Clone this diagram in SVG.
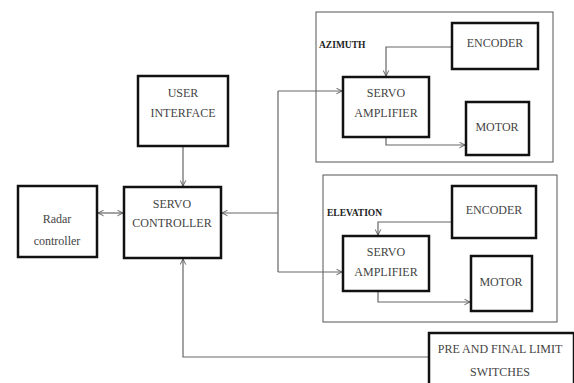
<svg xmlns="http://www.w3.org/2000/svg" width="574" height="383" viewBox="0 0 574 383">
<defs>
<marker id="ah" viewBox="0 0 10 10" refX="9" refY="5" markerWidth="7" markerHeight="7" orient="auto-start-reverse" markerUnits="userSpaceOnUse">
<path d="M1,1 L9,5 L1,9" fill="none" stroke="#555" stroke-width="1.3"/>
</marker>
<style>
.box{fill:#fff;stroke:#111;stroke-width:2.5}
.outer{fill:none;stroke:#555;stroke-width:1}
.t{font-family:"Liberation Serif","Times New Roman",serif;font-size:12px;fill:#444;text-anchor:middle}
.lbl{font-family:"Liberation Serif","Times New Roman",serif;font-size:9.5px;font-weight:bold;fill:#222}
.c{fill:none;stroke:#666;stroke-width:1.2}
</style>
</defs>
<rect width="574" height="383" fill="#fff"/>
<g id="azimuth-group">
<rect class="outer" x="316" y="12" width="237" height="150"/>
<text class="lbl" x="319" y="48">AZIMUTH</text>
</g>
<g id="elevation-group">
<rect class="outer" x="323" y="175" width="234" height="147"/>
<text class="lbl" x="327" y="216">ELEVATION</text>
</g>
<g id="connectors">
<line class="c" x1="183" y1="146" x2="183" y2="186" marker-end="url(#ah)"/>
<line class="c" x1="98" y1="213" x2="123" y2="213" marker-start="url(#ah)" marker-end="url(#ah)"/>
<polyline class="c" points="278,91 278,272"/>
<line class="c" x1="278" y1="213" x2="222" y2="213" marker-end="url(#ah)"/>
<line class="c" x1="278" y1="91" x2="342" y2="91" marker-end="url(#ah)"/>
<line class="c" x1="278" y1="272" x2="342" y2="272" marker-end="url(#ah)"/>
<polyline class="c" points="452,47 386,47 386,76" marker-end="url(#ah)"/>
<polyline class="c" points="386,138 386,145 465,145" marker-end="url(#ah)"/>
<polyline class="c" points="452,222 378,222 378,235" marker-end="url(#ah)"/>
<polyline class="c" points="378,292 378,302 470,302" marker-end="url(#ah)"/>
<polyline class="c" points="429,357 183,357 183,259" marker-end="url(#ah)"/>
</g>
<g id="user-interface">
<rect class="box" x="138" y="76" width="90" height="70"/>
<text class="t" x="183" y="97">USER</text>
<text class="t" x="183" y="117">INTERFACE</text>
</g>
<g id="servo-controller">
<rect class="box" x="124" y="187" width="97" height="71"/>
<text class="t" x="172" y="208">SERVO</text>
<text class="t" x="172" y="227">CONTROLLER</text>
</g>
<g id="radar-controller">
<rect class="box" x="18" y="186" width="79" height="71"/>
<text class="t" x="57" y="223">Radar</text>
<text class="t" x="57" y="245">controller</text>
</g>
<g id="az-encoder">
<rect class="box" x="452" y="23" width="86" height="46"/>
<text class="t" x="495" y="47">ENCODER</text>
</g>
<g id="az-servo-amplifier">
<rect class="box" x="343" y="77" width="86" height="60"/>
<text class="t" x="386" y="97">SERVO</text>
<text class="t" x="386" y="117">AMPLIFIER</text>
</g>
<g id="az-motor">
<rect class="box" x="466" y="102" width="63" height="53"/>
<text class="t" x="497" y="131">MOTOR</text>
</g>
<g id="el-encoder">
<rect class="box" x="452" y="186" width="84" height="52"/>
<text class="t" x="494" y="214">ENCODER</text>
</g>
<g id="el-servo-amplifier">
<rect class="box" x="343" y="236" width="86" height="55"/>
<text class="t" x="386" y="256">SERVO</text>
<text class="t" x="386" y="276">AMPLIFIER</text>
</g>
<g id="el-motor">
<rect class="box" x="471" y="256" width="61" height="55"/>
<text class="t" x="501" y="286">MOTOR</text>
</g>
<g id="limit-switches">
<rect class="box" x="429" y="333" width="145" height="60"/>
<text class="t" x="500" y="353">PRE AND FINAL LIMIT</text>
<text class="t" x="500" y="376">SWITCHES</text>
</g>
</svg>
